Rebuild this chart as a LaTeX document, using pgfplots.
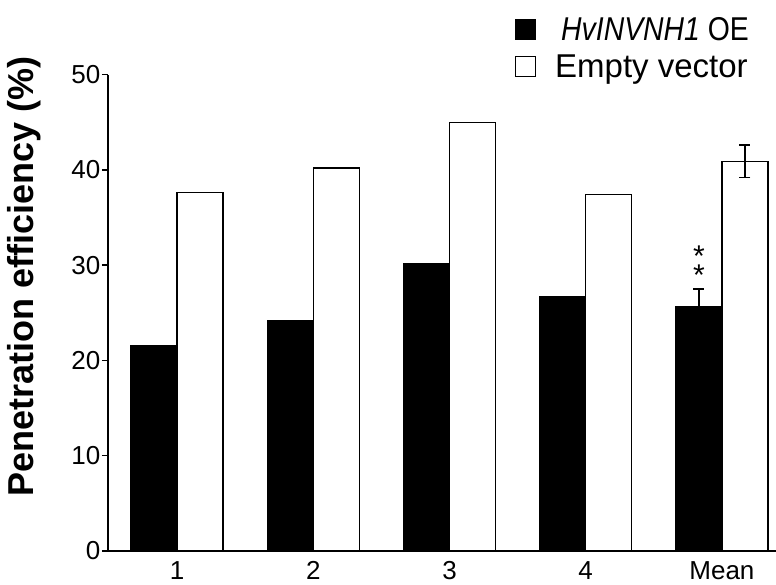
\documentclass[border=0pt]{standalone}
\usepackage{fontspec}
\setmainfont{Liberation Sans}
\usepackage{graphicx}
\usepackage{pgfplots}
\usepackage{pgfplotstable}
\pgfplotsset{compat=1.18}

% Penetration efficiency per line (1-4)
\pgfplotstableread{
x  oe    ev
1  21.6  37.6
2  24.2  40.2
3  30.1  45.0
4  26.7  37.4
}\lines

% Means with their errors
\pgfplotstableread{
x  oe    oeerr  ev    everr
5  25.6  1.9    40.9  1.7
}\means

\begin{document}
\begin{tikzpicture}
\begin{axis}[
  scale only axis,
  width=668pt, height=476.5pt,
  xmin=0.493, xmax=5.397,
  ymin=0, ymax=50,
  axis x line=bottom, axis y line=left,
  axis line style={-, line width=1.6pt, black},
  xtick={1,2,3,4,5},
  xticklabels={1,2,3,4,Mean},
  ytick={0,10,20,30,40,50},
  tick align=outside,
  major tick length=6pt,
  xtick style={draw=none},
  ytick style={line width=1.5pt, black},
  /pgf/number format/assume math mode=true,
  tick label style={font=\fontsize{26}{30}\selectfont},
  yticklabel style={inner xsep=1.5pt},
  xticklabel style={yshift=-1pt},
  ylabel={Penetration efficiency (\%)},
  ylabel style={font=\fontsize{36}{40}\selectfont\bfseries,
    at={(axis description cs:-0.125,0.576)}, anchor=center},
  legend style={at={(axis description cs:0.609,1.125)}, anchor=north west,
    draw=none, fill=none, inner sep=0pt,
    font=\fontsize{33}{37}\selectfont,
    row sep=9pt,
    /tikz/every odd column/.append style={column sep=17pt}},
  legend cell align=left,
  legend image code/.code={\draw[#1, line width=1.2pt] (0pt,-10pt) rectangle (20pt,10pt);},
  clip=false,
]
\addplot[ybar, bar width=46pt, bar shift=-23pt, fill=black, draw=black, line width=1.3pt]
  table[x=x, y=oe]{\lines};
\addplot[ybar, bar width=46pt, bar shift=23pt, fill=white, draw=black, line width=1.3pt]
  table[x=x, y=ev]{\lines};

% mean bars
\addplot[ybar, bar width=46pt, bar shift=-23pt, fill=black, draw=black, line width=1.3pt, forget plot]
  table[x=x, y=oe]{\means};
\addplot[ybar, bar width=46pt, bar shift=23pt, fill=white, draw=black, line width=1.3pt, forget plot]
  table[x=x, y=ev]{\means};

% error bars of the means, centred on each bar
\addplot[forget plot, draw=none, mark=none,
  error bars/.cd, y dir=plus, y explicit,
  error bar style={draw=black, solid, line width=1.5pt},
  error mark options={rotate=90, mark size=5.5pt, line width=1.5pt, draw=black}]
  table[x expr=\thisrow{x}-0.1689, y=oe, y error=oeerr]{\means};
\addplot[forget plot, draw=none, mark=none,
  error bars/.cd, y dir=both, y explicit,
  error bar style={draw=black, solid, line width=1.5pt},
  error mark options={rotate=90, mark size=5.5pt, line width=1.5pt, draw=black}]
  table[x expr=\thisrow{x}+0.1689, y=ev, y error=everr]{\means};

\legend{\hspace{6pt}\scalebox{0.86}[1]{\textit{HvINVNH1} OE}, Empty vector}

% significance marks over the mean of the over-expression line
\node[font=\fontsize{30}{18.5}\selectfont, align=center, inner sep=0pt, anchor=south]
  at (axis cs:4.831,27.85) {\smash{*}\\\smash{*}};
\end{axis}
\pgfresetboundingbox
\path[use as bounding box] (-108pt,-33pt) rectangle (668pt,551pt);
\end{tikzpicture}
\end{document}
